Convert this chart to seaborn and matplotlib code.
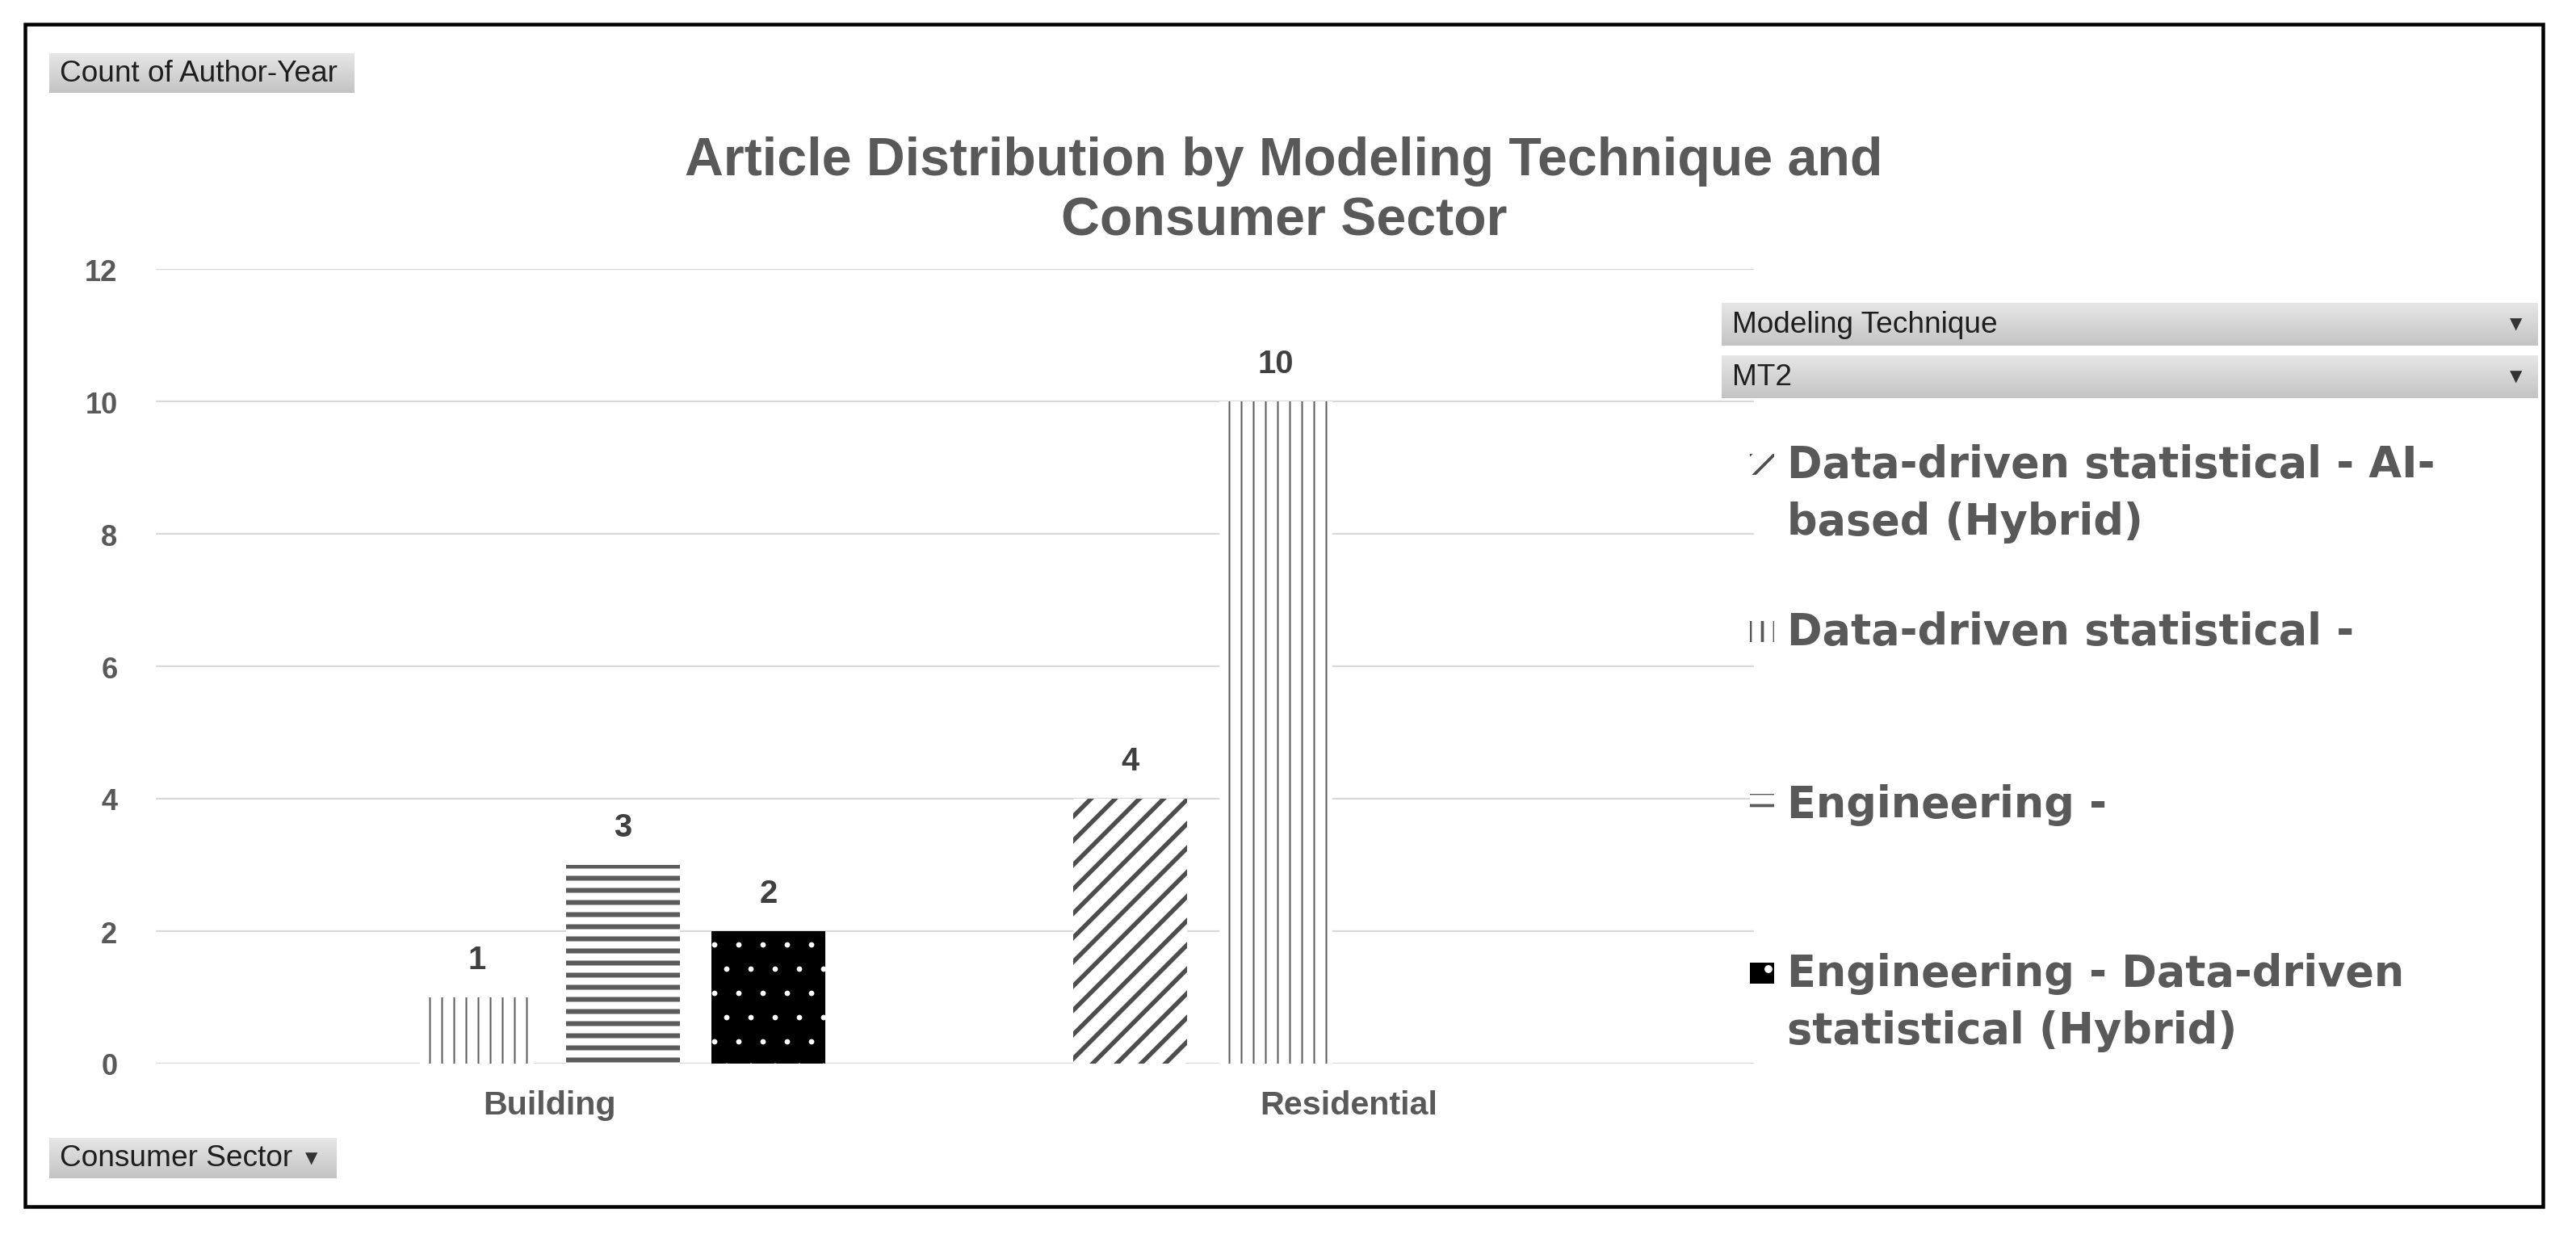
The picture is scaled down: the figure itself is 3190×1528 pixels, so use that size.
import pandas as pd
import matplotlib.pyplot as plt
import numpy as np
import seaborn as sns
from matplotlib.patches import Rectangle

# ---------------------------------------- data ----------------------------------------
sectors = ["Building", "Residential"]
techniques = [
    "Data-driven statistical - AI-based (Hybrid)",
    "Data-driven statistical -",
    "Engineering -",
    "Engineering - Data-driven statistical (Hybrid)",
]
legend_labels = [
    "Data-driven statistical - AI-\nbased (Hybrid)",
    "Data-driven statistical -",
    "Engineering -",
    "Engineering - Data-driven\nstatistical (Hybrid)",
]
building_counts = [0, 1, 3, 2]
residential_counts = [4, 10, 0, 0]
y_ticks = [0, 2, 4, 6, 8, 10, 12]

df = pd.DataFrame({
    "sector": [s for s in sectors for _ in techniques],
    "technique": techniques * len(sectors),
    "count": building_counts + residential_counts,
})

# bar styles per technique (hatch, face, hatch colour, hatch linewidth)
hatches = ["//", "||", "--", "."]
faces = ["white", "white", "white", "black"]
hatch_cols = ["#4d4d4d", "#5a5a5a", "#5a5a5a", "white"]
hatch_lws = [2.2, 0.8, 2.4, 0.3]

W, H, DPI = 3190, 1529, 180

sns.set_theme(style="white")
plt.rcParams["font.family"] = ["Liberation Sans", "DejaVu Sans"]
plt.rcParams["hatch.linewidth"] = 1.5

fig = plt.figure(figsize=(W / DPI, H / DPI), dpi=DPI)
fig.patch.set_facecolor("white")
ax = fig.add_axes([193 / W, 1 - 1318 / H, (2172 - 193) / W, (1318 - 334) / H])

sns.barplot(
    data=df, x="sector", y="count", hue="technique",
    order=sectors, hue_order=techniques,
    palette=["white"] * len(techniques),
    width=0.73, gap=0.22, legend=False, ax=ax,
    linewidth=0, errorbar=None,
)


def set_hlw(p, w):
    if hasattr(p, "set_hatch_linewidth"):
        p.set_hatch_linewidth(w)
    else:
        p._hatch_linewidth = w


for i, cont in enumerate(ax.containers):
    for bar in cont:
        bar.set_facecolor(faces[i])
        bar.set_edgecolor(hatch_cols[i])
        bar.set_linewidth(0)
        bar.set_hatch(hatches[i])
        set_hlw(bar, hatch_lws[i])
    vals = [bar.get_height() for bar in cont]
    labs = ["" if v == 0 else f"{v:g}" for v in vals]
    ax.bar_label(cont, labels=labs, padding=11, fontsize=16,
                 fontweight="bold", color="#404040")

ax.set_xlim(-0.493, 1.507)
ax.set_ylim(0, 12)
ax.set_yticks(y_ticks)
ax.yaxis.grid(True, color="#d9d9d9", linewidth=0.9)
ax.set_axisbelow(True)
for s in ax.spines.values():
    s.set_visible(False)
ax.tick_params(axis="y", length=0, pad=19, labelsize=14.5, labelcolor="#595959")
ax.tick_params(axis="x", length=0, pad=13, labelsize=16.5, labelcolor="#595959")
for lab in ax.get_xticklabels() + ax.get_yticklabels():
    lab.set_fontweight("bold")
ax.set_xlabel("")
ax.set_ylabel("")

# title
fig.text(1590 / W, 1 - 237 / H,
         "Article Distribution by Modeling Technique and\nConsumer Sector",
         ha="center", va="center", fontsize=26.5, fontweight="bold",
         color="#595959", linespacing=1.25)

# pivot style field buttons
grad = np.linspace(0, 1, 64).reshape(-1, 1)


def button(x0, y0, x1, y1, text, arrow_x=None):
    bax = fig.add_axes([x0 / W, 1 - y1 / H, (x1 - x0) / W, (y1 - y0) / H])
    bax.imshow(grad, aspect="auto", cmap=sns.blend_palette(["#e6e6e6", "#c4c4c4"], as_cmap=True),
               extent=(0, 1, 0, 1), origin="upper")
    bax.set_axis_off()
    yc = 1 - (y0 + y1) / 2 / H
    fig.text((x0 + 13) / W, yc, text, ha="left", va="center",
             fontsize=14.8, color="#1e1e1e")
    if arrow_x is not None:
        fig.text(arrow_x / W, yc, "\u25BC", ha="center", va="center",
                 fontsize=8, color="#333333", family="DejaVu Sans")


button(61, 67, 439, 116, "Count of Author-Year")
button(61, 1410, 417, 1460, "Consumer Sector", arrow_x=386)
button(2132, 376, 3143, 429, "Modeling Technique", arrow_x=3116)
button(2132, 441, 3143, 494, "MT2", arrow_x=3116)

# legend, one row per technique
first_line_y = [576, 783, 997, 1206]
for i, lab in enumerate(legend_labels):
    y = first_line_y[i]
    fig.add_artist(Rectangle((2167 / W, 1 - (y + 13) / H), 30 / W, 26 / H,
                             transform=fig.transFigure, facecolor=faces[i],
                             edgecolor=hatch_cols[i], linewidth=0,
                             hatch=hatches[i]))
    for j, line in enumerate(lab.split("\n")):
        fig.text(2213 / W, 1 - (y + j * 71) / H, line, ha="left", va="center",
                 fontsize=21, fontweight="bold", color="#595959",
                 family=["DejaVu Sans"])

# outer frame
fig.add_artist(Rectangle((31 / W, 1 - 1495 / H), (3149 - 31) / W, (1495 - 31) / H,
                         transform=fig.transFigure, fill=False,
                         edgecolor="black", linewidth=1.8))

plt.savefig("out.png", dpi=DPI)
